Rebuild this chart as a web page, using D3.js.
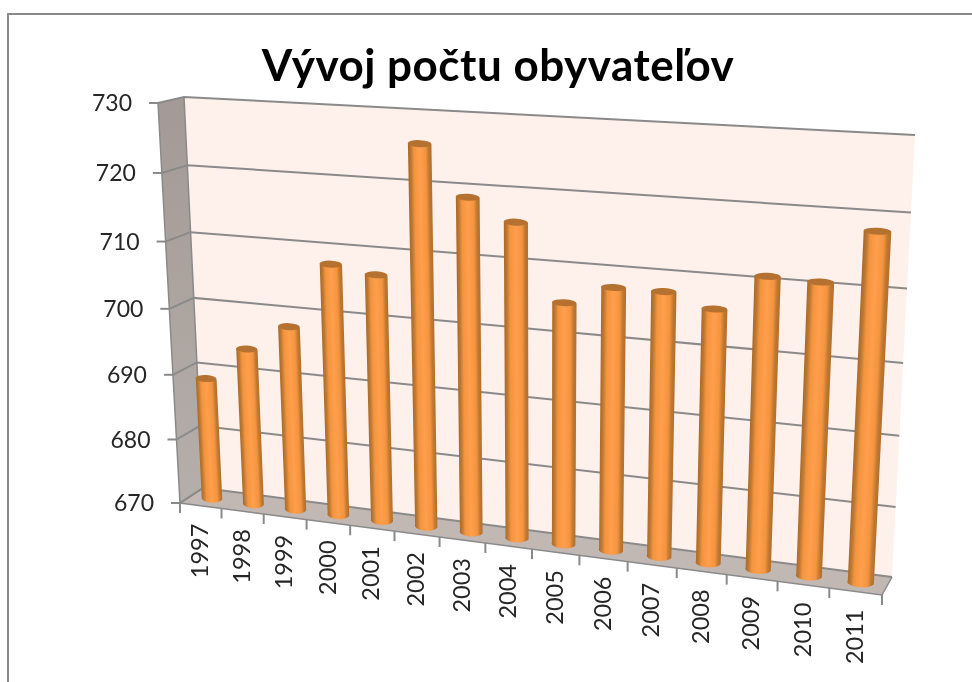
<!DOCTYPE html>
<html>
<head>
<meta charset="utf-8">
<title>Vývoj počtu obyvateľov</title>
<script src="https://cdn.jsdelivr.net/npm/d3@7/dist/d3.min.js"></script>
<style>
  html, body { margin: 0; padding: 0; background: #fff; overflow: hidden; }
  text { font-family: Lato, "Open Sans", sans-serif; fill: #262626; }
</style>
</head>
<body>
<script>
// data
var years = ["1997", "1998", "1999", "2000", "2001", "2002", "2003", "2004", "2005", "2006", "2007", "2008", "2009", "2010", "2011"];
var people = [688.8, 694, 698, 707.8, 706.8, 725.8, 718.8, 715.8, 705.1, 707.8, 707.8, 706, 711, 710.8, 718];
var yTicks = [670, 680, 690, 700, 710, 720, 730];
var titleText = "Vývoj počtu obyvateľov";

var width = 972, height = 682;

// corners of the box as drawn: tl, tr, br, bl
var backWall = [[184, 97], [915, 135], [892, 577], [203, 488]];
var frontWall = [[158, 103], [905, 143], [882, 595], [180, 503]];
var midWall = backWall.map(function(p, i) {
  return [(p[0] + frontWall[i][0]) / 2, (p[1] + frontWall[i][1]) / 2];
});

// maps the unit square onto a four cornered plane (perspective)
function plane(c) {
  var x0 = c[0][0], y0 = c[0][1], x1 = c[1][0], y1 = c[1][1],
      x2 = c[2][0], y2 = c[2][1], x3 = c[3][0], y3 = c[3][1];
  var dx1 = x1 - x2, dx2 = x3 - x2, sx = x0 - x1 + x2 - x3,
      dy1 = y1 - y2, dy2 = y3 - y2, sy = y0 - y1 + y2 - y3;
  var det = dx1 * dy2 - dx2 * dy1;
  var g = (sx * dy2 - dx2 * sy) / det,
      h = (dx1 * sy - sx * dy1) / det;
  var a = x1 - x0 + g * x1, b = x3 - x0 + h * x3,
      d = y1 - y0 + g * y1, e = y3 - y0 + h * y3;
  return function(u, v) {
    var w = g * u + h * v + 1;
    return [(a * u + b * v + x0) / w, (d * u + e * v + y0) / w];
  };
}

var back = plane(backWall), front = plane(frontWall), mid = plane(midWall);

// v runs from the top of the wall (0) to the floor (1)
var y = d3.scaleLinear().domain([730, 670]).range([0, 1]);
var x = d3.scaleBand().domain(years).range([0, 1]).paddingInner(0.5).paddingOuter(0.25);
var slot = d3.scaleBand().domain(years).range([0, 1]);

// the reference is a slightly soft screenshot
var svg = d3.select("body").append("svg")
    .attr("width", width)
    .attr("height", height)
    .style("display", "block")
    .style("filter", "blur(0.45px)");

var defs = svg.append("defs");

var grey = "#8a8a8a";

// frame of the chart, cut off by the screenshot on the right and at the bottom
svg.append("path")
    .attr("d", "M8," + (height + 5) + "V14H" + (width + 5))
    .attr("fill", "none")
    .attr("stroke", grey)
    .attr("stroke-width", 2);

svg.append("text")
    .attr("x", 498)
    .attr("y", 81)
    .attr("text-anchor", "middle")
    .style("font-size", "44px")
    .style("font-weight", "700")
    .style("letter-spacing", "0.5px")
    .style("fill", "#000")
    .text(titleText);

function poly(points) {
  return "M" + points.map(function(p) { return p[0] + "," + p[1]; }).join("L") + "Z";
}

// walls
var sideGrad = defs.append("linearGradient")
    .attr("id", "side").attr("x1", 0).attr("y1", 0).attr("x2", 0).attr("y2", 1);
sideGrad.append("stop").attr("offset", 0).attr("stop-color", "#a39a95");
sideGrad.append("stop").attr("offset", 1).attr("stop-color", "#b5aeaa");

svg.append("path")
    .attr("d", poly(backWall))
    .attr("fill", "#fef0ea");

svg.append("path")
    .attr("d", poly([frontWall[0], backWall[0], backWall[3], frontWall[3]]))
    .attr("fill", "url(#side)");

svg.append("path")
    .attr("d", poly([backWall[3], backWall[2], frontWall[2], frontWall[3]]))
    .attr("fill", "#c1b8b4");

// gridlines: along the side wall, then along the back wall
svg.append("g").selectAll("path")
  .data(yTicks)
  .enter().append("path")
    .attr("d", function(d) {
      var p = front(0, y(d)), q = back(0, y(d)), r = back(1, y(d));
      return "M" + p + "L" + q + "L" + r;
    })
    .attr("fill", "none")
    .attr("stroke", grey)
    .attr("stroke-width", 2);

// edges of the box
svg.append("path")
    .attr("d", "M" + frontWall[0] + "L" + frontWall[3] + "L" + frontWall[2] + "L" + backWall[2] +
               "M" + frontWall[3] + "L" + backWall[3] + "L" + backWall[0])
    .attr("fill", "none")
    .attr("stroke", grey)
    .attr("stroke-width", 1.5);

// y axis
var yAxis = svg.append("g").selectAll("g")
  .data(yTicks)
  .enter().append("g")
    .attr("transform", function(d) {
      return "translate(" + front(0, y(d)) + ")";
    });

yAxis.append("line")
    .attr("x1", -9)
    .attr("x2", 0)
    .attr("stroke", grey)
    .attr("stroke-width", 2);

yAxis.append("text")
    .attr("x", -26)
    .attr("dy", "0.35em")
    .attr("text-anchor", "end")
    .style("font-size", "23px")
    .text(function(d) { return d; });

// x axis
var xEdges = [0].concat(years.map(function(d) { return slot(d) + slot.bandwidth(); }));

svg.append("g").selectAll("line")
  .data(xEdges)
  .enter().append("line")
    .attr("x1", function(d) { return front(d, 1)[0]; })
    .attr("y1", function(d) { return front(d, 1)[1]; })
    .attr("x2", function(d) { return front(d, 1)[0]; })
    .attr("y2", function(d) { return front(d, 1)[1] + 10; })
    .attr("stroke", grey)
    .attr("stroke-width", 2);

svg.append("g").selectAll("text")
  .data(years)
  .enter().append("text")
    .attr("transform", function(d) {
      var p = front(slot(d) + slot.bandwidth() / 2, 1);
      return "translate(" + (p[0] - 1) + "," + (p[1] + 18) + ") rotate(-90)";
    })
    .attr("dy", "0.35em")
    .attr("text-anchor", "end")
    .style("font-size", "23.5px")
    .text(function(d) { return d; });

// bars, cylinders standing on the middle of the floor
var bars = years.map(function(year, i) {
  var u0 = x(year), u1 = x(year) + x.bandwidth(), v = y(people[i]);
  return {
    year: year,
    tl: mid(u0, v), tr: mid(u1, v),
    bl: mid(u0, 1), br: mid(u1, 1)
  };
});

bars.forEach(function(b, i) {
  var mx = (b.tl[0] + b.tr[0] + b.bl[0] + b.br[0]) / 4,
      my = (b.tl[1] + b.tr[1] + b.bl[1] + b.br[1]) / 4;
  var ax = (b.tl[0] + b.tr[0] - b.bl[0] - b.br[0]) / 2,
      ay = (b.tl[1] + b.tr[1] - b.bl[1] - b.br[1]) / 2;
  var len = Math.sqrt(ax * ax + ay * ay);
  var r = (b.br[0] - b.bl[0]) / 2;
  var nx = -ay / len, ny = ax / len;

  var grad = defs.append("linearGradient")
      .attr("id", "bar" + i)
      .attr("gradientUnits", "userSpaceOnUse")
      .attr("x1", mx + nx * r).attr("y1", my + ny * r)
      .attr("x2", mx - nx * r).attr("y2", my - ny * r);
  grad.append("stop").attr("offset", 0).attr("stop-color", "#b56f2e");
  grad.append("stop").attr("offset", 0.1).attr("stop-color", "#bd7831");
  grad.append("stop").attr("offset", 0.24).attr("stop-color", "#f3943f");
  grad.append("stop").attr("offset", 0.5).attr("stop-color", "#ff9f4d");
  grad.append("stop").attr("offset", 0.76).attr("stop-color", "#f3943f");
  grad.append("stop").attr("offset", 0.9).attr("stop-color", "#bd7831");
  grad.append("stop").attr("offset", 1).attr("stop-color", "#ad6a2b");

  var rx = (b.br[0] - b.bl[0]) / 2, ry = 4.5;
  // caps in the reference are almost flat
  var tilt = Math.atan2(b.br[1] - b.bl[1], b.br[0] - b.bl[0]) * 180 / Math.PI * 0.4;

  svg.append("path")
      .attr("d", "M" + b.tl + "L" + b.bl +
                 "A" + rx + "," + ry + " " + tilt + " 0 0 " + b.br +
                 "L" + b.tr + "Z")
      .attr("fill", "url(#bar" + i + ")");

  svg.append("ellipse")
      .attr("cx", (b.tl[0] + b.tr[0]) / 2)
      .attr("cy", (b.tl[1] + b.tr[1]) / 2)
      .attr("rx", (b.tr[0] - b.tl[0]) / 2)
      .attr("ry", 3.5)
      .attr("transform", "rotate(" + tilt + " " + (b.tl[0] + b.tr[0]) / 2 + " " + (b.tl[1] + b.tr[1]) / 2 + ")")
      .attr("fill", "#b5712f");
});
</script>
</body>
</html>
